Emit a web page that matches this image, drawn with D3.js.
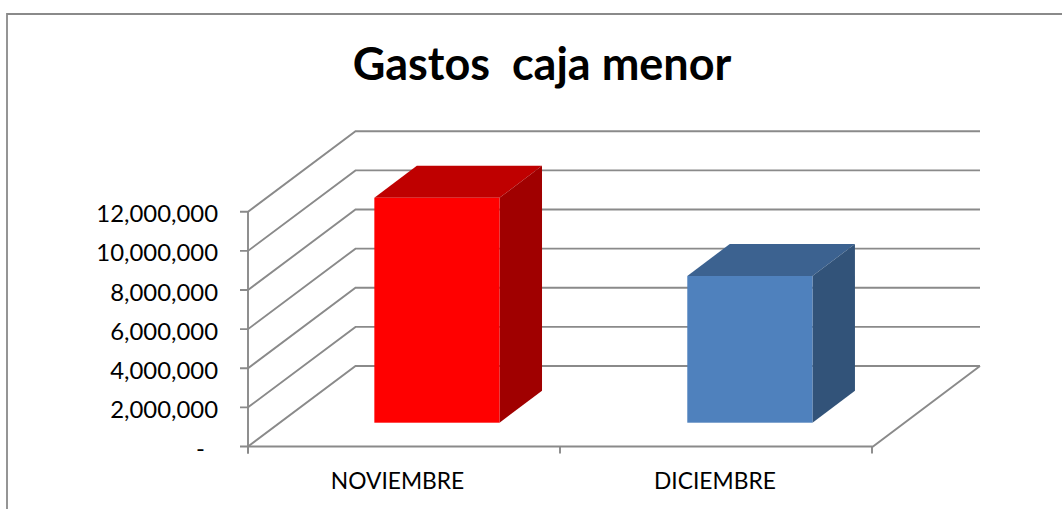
<!DOCTYPE html>
<html><head><meta charset="utf-8">
<style>html,body{margin:0;padding:0;background:#fff}svg{display:block}text{font-family:Lato,"Open Sans",sans-serif;fill:#000}</style>
<script src="https://cdn.jsdelivr.net/npm/d3@7"></script></head>
<body><div id="c"></div>
<script>
const categories=["NOVIEMBRE","DICIEMBRE"];
const values=[11500000,7500000];
const frontColors=["#ff0000","#4f81bd"];
const topColors=["#bf0000","#3c6290"];
const sideColors=["#a00000","#325379"];
const tickValues=[0,2000000,4000000,6000000,8000000,10000000,12000000];
const W=1062,H=509;
const svg=d3.select("#c").append("svg").attr("width",W).attr("height",H);
const y=d3.scaleLinear().domain([0,12000000]).range([446.5,211.8]);
const x=d3.scaleBand().domain(categories).range([248,872]).paddingInner(0.6).paddingOuter(0.297);
const depth={x:107.5,y:-80.5}, barDepth={x:42.5,y:-32}, barShift={x:33.4,y:-23.8};
const labelNudge=[-6,-1.5];
const grey="#8a8a8a";
svg.append("path").attr("d",`M7,${H+2}V14H${W+2}`).attr("fill","none").attr("stroke",grey).attr("stroke-width",1.8);
svg.append("text").attr("x",542).attr("y",80).attr("text-anchor","middle").attr("font-size",45).attr("font-weight",700).attr("xml:space","preserve").style("white-space","pre").text("Gastos  caja menor");
const g=svg.append("g").attr("fill","none").attr("stroke",grey).attr("stroke-width",1.9);
const x0=248,x1=872;
tickValues.forEach(v=>{
  const yy=y(v);
  g.append("path").attr("d",`M${x0-8},${yy}H${x0}L${x0+depth.x},${yy+depth.y}H${x1+depth.x+0.5}`);
});
g.append("path").attr("d",`M${x0},${y(12000000)}V${y(0)+7}`);
g.append("path").attr("d",`M${x0},${y(0)}H${x1+1}L${x1+depth.x+0.5},${y(0)+depth.y}`);
[x0,(x0+x1)/2,x1].forEach(t=>g.append("path").attr("d",`M${t},${y(0)}V${y(0)+7}`));
const fmt=d3.format(",");
svg.append("g").selectAll("text").data(tickValues).join("text").attr("x",218).attr("y",v=>y(v)+10.5).attr("text-anchor","end").attr("font-size",23.9).text(v=>v===0?"-":fmt(v)).attr("dx",v=>v===0?-13:0);
const bars=svg.append("g").selectAll("g").data(categories).join("g");
bars.each(function(c,i){
  const s=d3.select(this);
  const l=x(c)+barShift.x, r=l+x.bandwidth(), b=y(0)+barShift.y, t=b-(y(0)-y(values[i]));
  const dx=barDepth.x, dy=barDepth.y;
  s.append("path").attr("d",`M${l},${t}L${l+dx},${t+dy}H${r+dx}L${r},${t}Z`).attr("fill",topColors[i]);
  s.append("path").attr("d",`M${r},${t}L${r+dx},${t+dy}V${b+dy}L${r},${b}Z`).attr("fill",sideColors[i]);
  s.append("rect").attr("x",l).attr("y",t).attr("width",x.bandwidth()).attr("height",b-t).attr("fill",frontColors[i]);
});
svg.append("g").selectAll("text").data(categories).join("text").attr("x",(c,i)=>x(c)+x.bandwidth()/2+labelNudge[i]).attr("y",488.5).attr("text-anchor","middle").attr("font-size",22.8).text(c=>c);
</script></body></html>
